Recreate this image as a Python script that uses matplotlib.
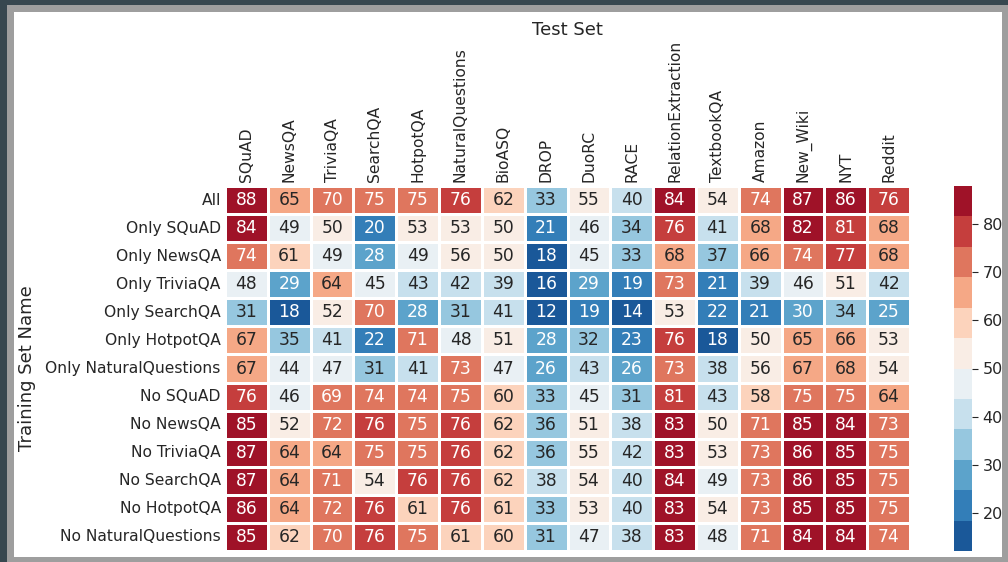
import matplotlib
matplotlib.use("Agg")
import matplotlib.pyplot as plt
import numpy as np
import pandas as pd
import seaborn as sns
from matplotlib.patches import Rectangle
from matplotlib.colors import ListedColormap

train_sets = ["All", "Only SQuAD", "Only NewsQA", "Only TriviaQA", "Only SearchQA",
              "Only HotpotQA", "Only NaturalQuestions", "No SQuAD", "No NewsQA",
              "No TriviaQA", "No SearchQA", "No HotpotQA", "No NaturalQuestions"]
test_sets = ["SQuAD", "NewsQA", "TriviaQA", "SearchQA", "HotpotQA", "NaturalQuestions",
             "BioASQ", "DROP", "DuoRC", "RACE", "RelationExtraction", "TextbookQA",
             "Amazon", "New_Wiki", "NYT", "Reddit"]

row_all = [88, 65, 70, 75, 75, 76, 62, 33, 55, 40, 84, 54, 74, 87, 86, 76]
row_only_squad = [84, 49, 50, 20, 53, 53, 50, 21, 46, 34, 76, 41, 68, 82, 81, 68]
row_only_newsqa = [74, 61, 49, 28, 49, 56, 50, 18, 45, 33, 68, 37, 66, 74, 77, 68]
row_only_triviaqa = [48, 29, 64, 45, 43, 42, 39, 16, 29, 19, 73, 21, 39, 46, 51, 42]
row_only_searchqa = [31, 18, 52, 70, 28, 31, 41, 12, 19, 14, 53, 22, 21, 30, 34, 25]
row_only_hotpotqa = [67, 35, 41, 22, 71, 48, 51, 28, 32, 23, 76, 18, 50, 65, 66, 53]
row_only_nq = [67, 44, 47, 31, 41, 73, 47, 26, 43, 26, 73, 38, 56, 67, 68, 54]
row_no_squad = [76, 46, 69, 74, 74, 75, 60, 33, 45, 31, 81, 43, 58, 75, 75, 64]
row_no_newsqa = [85, 52, 72, 76, 75, 76, 62, 36, 51, 38, 83, 50, 71, 85, 84, 73]
row_no_triviaqa = [87, 64, 64, 75, 75, 76, 62, 36, 55, 42, 83, 53, 73, 86, 85, 75]
row_no_searchqa = [87, 64, 71, 54, 76, 76, 62, 38, 54, 40, 84, 49, 73, 86, 85, 75]
row_no_hotpotqa = [86, 64, 72, 76, 61, 76, 61, 33, 53, 40, 83, 54, 73, 85, 85, 75]
row_no_nq = [85, 62, 70, 76, 75, 61, 60, 31, 47, 38, 83, 48, 71, 84, 84, 74]

rows = [row_all, row_only_squad, row_only_newsqa, row_only_triviaqa, row_only_searchqa,
        row_only_hotpotqa, row_only_nq, row_no_squad, row_no_newsqa, row_no_triviaqa,
        row_no_searchqa, row_no_hotpotqa, row_no_nq]
df = pd.DataFrame(rows, index=train_sets, columns=test_sets)

plt.rcParams['font.family'] = ['DejaVu Sans']

W, H = 1008, 562
fig = plt.figure(figsize=(W / 100, H / 100), dpi=100)
fig.patch.set_facecolor("#37474f")
# screenshot-like frame
fig.patches.append(Rectangle((7 / W, 0), (1008 - 7) / W, (H - 5) / H,
                             transform=fig.transFigure, facecolor="#9e9e9e",
                             edgecolor="none", zorder=-2))
fig.patches.append(Rectangle((14 / W, 5 / H), (1002 - 14) / W, (H - 12 - 5) / H,
                             transform=fig.transFigure, facecolor="white",
                             edgecolor="none", zorder=-1))

ax = fig.add_axes([225 / W, 1 - 551 / H, (910 - 225) / W, (551 - 186) / H])
cax = fig.add_axes([954 / W, 1 - 551 / H, 18 / W, (551 - 186) / H])

cmap = ListedColormap(sns.color_palette("RdBu_r", 12))
sns.heatmap(df, ax=ax, cbar_ax=cax, cmap=cmap, annot=True, fmt="d",
            linewidths=1, linecolor="white", annot_kws={"fontsize": 12.3})

ax.xaxis.tick_top()
ax.xaxis.set_label_position("top")
ax.set_xticklabels(test_sets, rotation=90, fontsize=11.2, color="#262626")
ax.set_yticklabels(train_sets, rotation=0, fontsize=11.2, color="#262626")
ax.tick_params(length=0, pad=3)
ax.set_xlabel("Test Set", fontsize=13, color="#262626", labelpad=3)
ax.set_ylabel("Training Set Name", fontsize=13, color="#262626")
ax.yaxis.set_label_coords((36 - 225) / (910 - 225), 0.5)

cax.tick_params(labelsize=11.5, length=4, colors="#262626")
cax.set_yticks([20, 30, 40, 50, 60, 70, 80])

fig.savefig("out.png", dpi=100, facecolor=fig.get_facecolor())
